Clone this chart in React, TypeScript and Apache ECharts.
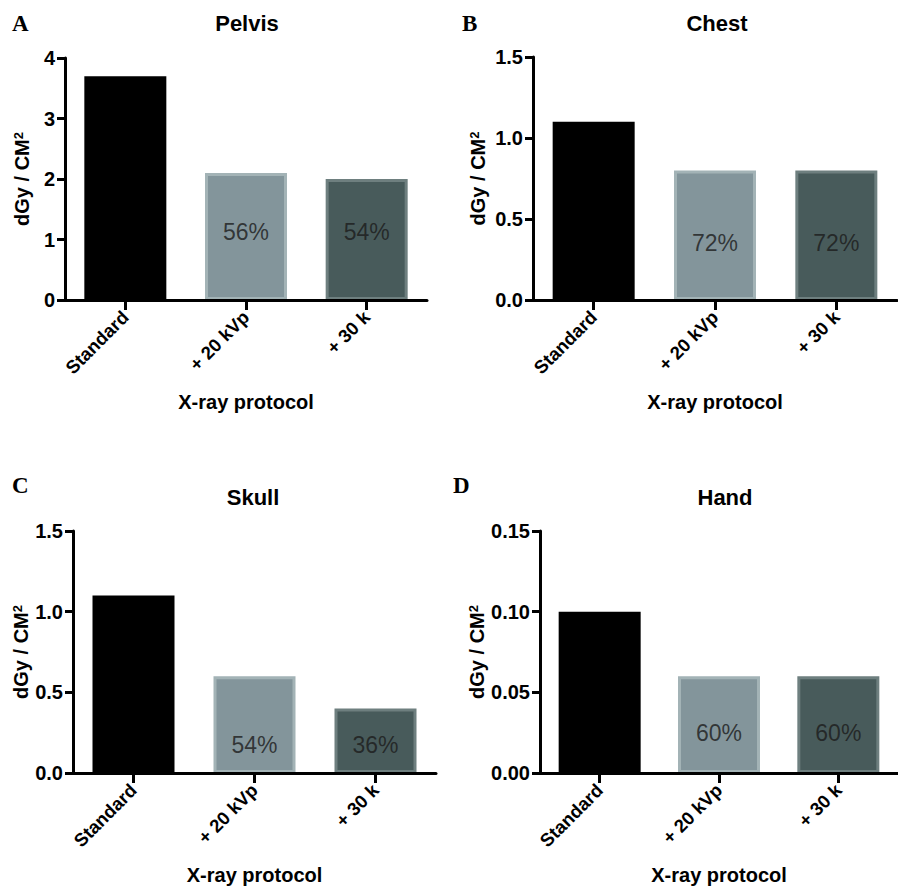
import React, { useEffect, useRef } from "react";
import * as echarts from "echarts";

// ---- data ----
const categories = ["Standard", "+ 20 kVp", "+ 30 k"];
const panelLetters = ["A", "B", "C", "D"];
const panelTitles = ["Pelvis", "Chest", "Skull", "Hand"];
const pelvisValues = [3.7, 2.1, 2.0];
const chestValues = [1.1, 0.8, 0.8];
const skullValues = [1.1, 0.6, 0.4];
const handValues = [0.1, 0.06, 0.06];
const pelvisPct = ["", "56%", "54%"];
const chestPct = ["", "72%", "72%"];
const skullPct = ["", "54%", "36%"];
const handPct = ["", "60%", "60%"];
const yMax = [4, 1.5, 1.5, 0.15];
const yInterval = [1, 0.5, 0.5, 0.05];
const yDecimals = [0, 1, 1, 2];
const yAxisTitle = "dGy / CM{sup|2}";
const xAxisTitle = "X-ray protocol";

const seriesValues = [pelvisValues, chestValues, skullValues, handValues];
const seriesPct = [pelvisPct, chestPct, skullPct, handPct];

// ---- layout / style ----
const layouts = [
  { left: 65, top: 58, width: 362, height: 242, yGap: 33, labelAt: 1.12, letterX: 12, letterY: 23, titleX: 247, titleY: 23 },
  { left: 533, top: 57, width: 364, height: 243, yGap: 45, labelAt: 0.352, letterX: 462, letterY: 23, titleX: 717, titleY: 23 },
  { left: 73, top: 531, width: 363, height: 242, yGap: 40, labelAt: 0.174, letterX: 12, letterY: 485, titleX: 253, titleY: 497 },
  { left: 540, top: 531, width: 363, height: 242, yGap: 53, labelAt: 0.0248, letterX: 453, letterY: 485, titleX: 725, titleY: 497 },
];
const barFills = ["#000000", "#83959b", "#485b5b"];
const barBorders = ["#000000", "#a3b3b6", "#6e7f7f"];
const FONT = "'Liberation Sans', Arial, Helvetica, sans-serif";

export default function App() {
  const ref = useRef<HTMLDivElement>(null);

  useEffect(() => {
    if (!ref.current) return;
    const chart = echarts.init(ref.current, undefined, { renderer: "svg" });

    const grid: any[] = [];
    const xAxis: any[] = [];
    const yAxis: any[] = [];
    const series: any[] = [];
    const graphic: any[] = [];

    layouts.forEach((L, i) => {
      grid.push({ left: L.left, top: L.top, width: L.width, height: L.height, containLabel: false });
      xAxis.push({
        type: "category",
        gridIndex: i,
        data: categories,
        z: 10,
        axisLine: { lineStyle: { color: "#000", width: 3 } },
        axisTick: { show: true, alignWithLabel: true, length: 10, lineStyle: { color: "#000", width: 3 } },
        axisLabel: {
          rotate: 45,
          margin: 14,
          color: "#000",
          fontFamily: FONT,
          fontWeight: "bold",
          fontSize: 18.5,
        },
        name: xAxisTitle,
        nameLocation: "middle",
        nameGap: 92,
        nameTextStyle: { color: "#000", fontFamily: FONT, fontWeight: "bold", fontSize: 20 },
      });
      yAxis.push({
        type: "value",
        gridIndex: i,
        min: 0,
        max: yMax[i],
        interval: yInterval[i],
        z: 10,
        splitLine: { show: false },
        axisLine: { show: true, lineStyle: { color: "#000", width: 3 } },
        axisTick: { show: true, length: 8, lineStyle: { color: "#000", width: 3 } },
        axisLabel: {
          margin: 10,
          color: "#000",
          fontFamily: FONT,
          fontWeight: "bold",
          fontSize: 20,
          formatter: (v: number) => v.toFixed(yDecimals[i]),
        },
        name: yAxisTitle,
        nameLocation: "middle",
        nameGap: L.yGap,
        nameRotate: 90,
        nameTextStyle: {
          color: "#000",
          fontFamily: FONT,
          fontWeight: "bold",
          fontSize: 20,
          rich: {
            sup: {
              fontFamily: FONT,
              fontWeight: "bold",
              fontSize: 13,
              color: "#000",
              verticalAlign: "top",
              padding: [0, 0, 6, 0],
            },
          },
        },
      });
      series.push({
        type: "bar",
        xAxisIndex: i,
        yAxisIndex: i,
        barWidth: 82,
        z: 2,
        data: seriesValues[i].map((v, j) => ({
          value: v,
          itemStyle: {
            color: barFills[j],
            borderColor: barBorders[j],
            borderWidth: j === 0 ? 0 : 3,
          },
        })),
      });
      series.push({
        type: "scatter",
        xAxisIndex: i,
        yAxisIndex: i,
        symbolSize: 1,
        silent: true,
        z: 5,
        itemStyle: { color: "transparent" },
        data: seriesPct[i]
          .map((t, j) => ({ value: [j, L.labelAt], name: t }))
          .filter((d) => d.name !== ""),
        label: {
          show: true,
          position: "inside",
          formatter: (p: any) => p.name,
          color: "#1c1c1c",
          fontFamily: FONT,
          fontSize: 23,
        },
      });
      graphic.push({
        type: "text",
        x: L.letterX,
        y: L.letterY,
        style: {
          text: panelLetters[i],
          font: "bold 23px 'Liberation Serif', 'Times New Roman', serif",
          fill: "#000",
          textVerticalAlign: "middle",
        },
      });
      graphic.push({
        type: "text",
        x: L.titleX,
        y: L.titleY,
        style: {
          text: panelTitles[i],
          font: `bold 22px ${FONT}`,
          fill: "#000",
          textAlign: "center",
          textVerticalAlign: "middle",
        },
      });
    });

    chart.setOption({
      animation: false,
      backgroundColor: "#ffffff",
      grid,
      xAxis,
      yAxis,
      series,
      graphic,
    });

    return () => chart.dispose();
  }, []);

  return (
    <div
      ref={ref}
      style={{ position: "absolute", left: 0, top: 0, width: 898, height: 887, background: "#fff" }}
    />
  );
}
